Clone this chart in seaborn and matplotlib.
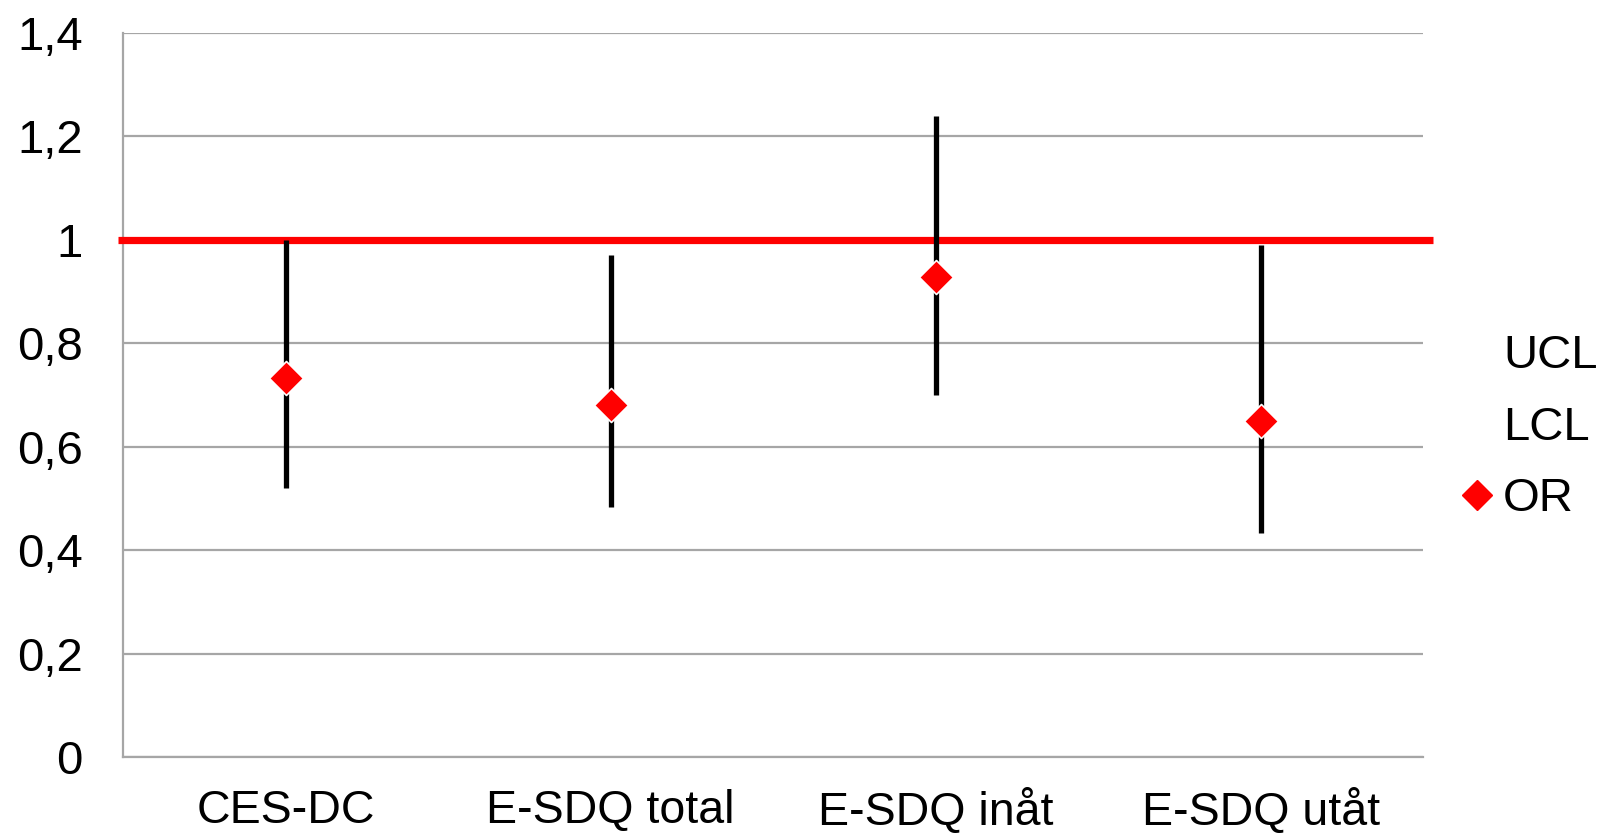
import matplotlib
matplotlib.use("Agg")
import matplotlib.pyplot as plt
from matplotlib.lines import Line2D
import seaborn as sns
import pandas as pd

categories = ["CES-DC", "E-SDQ total", "E-SDQ inåt", "E-SDQ utåt"]
ucl = [1.00, 0.97, 1.24, 0.99]
lcl = [0.52, 0.484, 0.70, 0.433]
or_vals = [0.733, 0.681, 0.928, 0.650]
y_ticks = [0, 0.2, 0.4, 0.6, 0.8, 1.0, 1.2, 1.4]
y_tick_labels = ["0", "0,2", "0,4", "0,6", "0,8", "1", "1,2", "1,4"]
ref_value = 1.0

sns.set_theme(style="white")
plt.rcParams["font.family"] = ["Liberation Sans", "DejaVu Sans"]
plt.rcParams["text.color"] = "black"

df = pd.DataFrame({"cat": categories, "UCL": ucl, "LCL": lcl, "OR": or_vals})
df["pos"] = range(len(df))

fig = plt.figure(figsize=(16.10, 8.34), dpi=100)
ax = fig.add_axes([0.0764, 0.0923, 0.8075, 0.8681])

grid_color = "#a6a6a6"
fs = 34
ax.set_ylim(0, 1.4)
ax.set_xlim(-0.5, len(categories) - 0.5)
ax.set_yticks(y_ticks)
ax.set_yticklabels(y_tick_labels)
ax.yaxis.grid(True, color=grid_color, linewidth=1.6)
ax.xaxis.grid(False)
ax.set_axisbelow(True)

# category boundaries as major ticks, labels on minor ticks at centers
ax.set_xticks([i - 0.5 for i in range(len(categories) + 1)])
ax.set_xticklabels([])
ax.set_xticks(df["pos"].tolist(), minor=True)
ax.set_xticklabels(categories, minor=True)
ax.tick_params(axis="x", which="major", length=11, width=1.3, color=grid_color, direction="out")
ax.tick_params(axis="x", which="minor", length=0, pad=23, labelsize=33.5, labelcolor="black")
ax.tick_params(axis="y", length=11, width=1.3, color=grid_color, direction="out", pad=18,
               labelsize=fs, labelcolor="black")

for s in ["top", "right"]:
    ax.spines[s].set_visible(False)
for s in ["left", "bottom"]:
    ax.spines[s].set_color(grid_color)
    ax.spines[s].set_linewidth(1.6)

# reference line at 1
ax.axhline(ref_value, xmin=-0.004, xmax=1.008, color="#ff0000", linewidth=5.2,
           clip_on=False, zorder=3, solid_capstyle="butt")

# high-low lines
ax.vlines(df["pos"], df["LCL"], df["UCL"], color="black", linewidth=3.8, zorder=4,
          capstyle="butt")

# OR markers
sns.scatterplot(data=df, x="pos", y="OR", marker="D", s=300, color="#ff0000",
                edgecolor="white", linewidth=1.2, ax=ax, zorder=5, legend=False)
ax.set_xlabel("")
ax.set_ylabel("")

handles = [
    Line2D([], [], linestyle="none", marker=None, label="UCL"),
    Line2D([], [], linestyle="none", marker=None, label="LCL"),
    Line2D([], [], linestyle="none", marker="D", markersize=15, color="#ff0000", label="OR"),
]
fig.legend(handles=handles, loc="center left", bbox_to_anchor=(0.894, 0.487), frameon=False,
           fontsize=fs, handlelength=0.6, handletextpad=0.25, labelspacing=0.58, borderpad=0,
           labelcolor="black")

fig.savefig("out.png", dpi=100)
